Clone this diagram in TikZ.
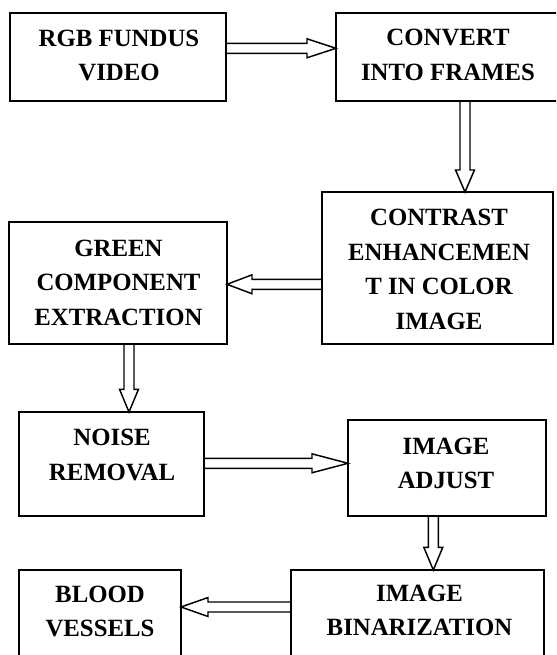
\documentclass[tikz,border=0pt]{standalone}
\usepackage{fontspec}
\setmainfont{Liberation Serif}
\usetikzlibrary{calc}
\tikzset{
  boxnode/.style={draw, line width=1.3pt, rectangle, inner sep=0pt, outer sep=0pt},
  txt/.style={align=center, inner sep=0pt, font=\fontsize{18.6pt}{25.9pt}\selectfont\bfseries},
  arrowline/.style={draw, line width=1.1pt, line join=miter},
}
% #1 start coordinate, #2 end coordinate (tip), #3 head length
\newcommand{\hollowarrow}[3]{%
  \coordinate (ha-s) at #1;
  \coordinate (ha-e) at #2;
  \coordinate (ha-h) at ($(ha-e)!#3!(ha-s)$);
  \draw[arrowline] ($(ha-s)!3.75pt!90:(ha-e)$) -- ($(ha-h)!3.75pt!-90:(ha-s)$)
     -- ($(ha-h)!7.1pt!-90:(ha-s)$) -- (ha-e) -- ($(ha-h)!7.1pt!90:(ha-s)$)
     -- ($(ha-h)!3.75pt!90:(ha-s)$) -- ($(ha-s)!3.75pt!-90:(ha-e)$);
}
\begin{document}
\begin{tikzpicture}[x=0.75pt,y=-0.75pt]
\useasboundingbox (0,0) rectangle (556,655);
\clip (0,0) rectangle (556,655);
% boxes
\node[boxnode, minimum width=162pt,    minimum height=66.2pt] (b1) at (118,56.85) {};
\node[boxnode, minimum width=171pt,    minimum height=66.2pt] (b2) at (450,56.85) {};
\node[boxnode, minimum width=173.25pt, minimum height=114pt]  (b3) at (437.5,268) {};
\node[boxnode, minimum width=163.5pt,  minimum height=91.5pt] (b4) at (118,283) {};
\node[boxnode, minimum width=138.75pt, minimum height=78pt]   (b5) at (111.5,464) {};
\node[boxnode, minimum width=148.5pt,  minimum height=72pt]   (b6) at (447,468) {};
\node[boxnode, minimum width=189.75pt, minimum height=64.5pt] (b7) at (417.5,613) {};
\node[boxnode, minimum width=121.5pt,  minimum height=64.5pt] (b8) at (100,613) {};
% texts
\node[txt] (b1t) at (119,55.5) {RGB FUNDUS\\VIDEO};
\node[txt] (b2t) at (448,55) {CONVERT\\INTO FRAMES};
\node[txt] (b3t) at (439,269.5) {CONTRAST\\ENHANCEMEN\\T IN COLOR\\IMAGE};
\node[txt] (b4t) at (118.5,282.8) {GREEN\\COMPONENT\\EXTRACTION};
\node[txt] (b5t) at (112,455) {NOISE\\REMOVAL};
\node[txt] (b6t) at (446,463.5) {IMAGE\\ADJUST};
\node[txt] (b7t) at (419.5,610.5) {IMAGE\\BINARIZATION};
\node[txt] (b8t) at (100,611.5) {BLOOD\\VESSELS};
% reference lines for connectors
\coordinate (y1) at (0,48.3);
\coordinate (x2) at (465,0);
\coordinate (y3) at (0,284.3);
\coordinate (x4) at (129,0);
\coordinate (y5) at (0,463.3);
\coordinate (x6) at (433.3,0);
\coordinate (y7) at (0,607);
% connectors
\hollowarrow{(b1.east |- y1)}{(b2.west |- y1)}{21.75pt}
\hollowarrow{(b2.south -| x2)}{(b3.north -| x2)}{16.5pt}
\hollowarrow{(b3.west |- y3)}{(b4.east |- y3)}{18.75pt}
\hollowarrow{(b4.south -| x4)}{(b5.north -| x4)}{17pt}
\hollowarrow{(b5.east |- y5)}{(b6.west |- y5)}{27pt}
\hollowarrow{(b6.south -| x6)}{(b7.north -| x6)}{17pt}
\hollowarrow{(b7.west |- y7)}{(b8.east |- y7)}{20.25pt}
\end{tikzpicture}
\end{document}
